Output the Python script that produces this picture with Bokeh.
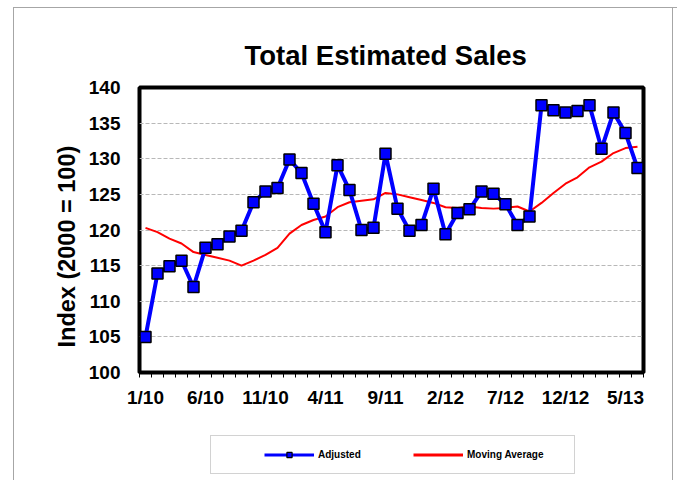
from bokeh.plotting import figure
from bokeh.layouts import column
from bokeh.models import (Range1d, FixedTicker, Legend, LegendItem, Title,
                          ColumnDataSource)
from bokeh.embed import file_html
from bokeh.resources import INLINE

# ---- data -------------------------------------------------------------
months = ["1/10", "2/10", "3/10", "4/10", "5/10", "6/10", "7/10", "8/10", "9/10", "10/10", "11/10", "12/10",
          "1/11", "2/11", "3/11", "4/11", "5/11", "6/11", "7/11", "8/11", "9/11", "10/11", "11/11", "12/11",
          "1/12", "2/12", "3/12", "4/12", "5/12", "6/12", "7/12", "8/12", "9/12", "10/12", "11/12", "12/12",
          "1/13", "2/13", "3/13", "4/13", "5/13", "6/13"]

adjusted = [105.0, 113.9, 114.9, 115.7, 112.0, 117.5, 118.0, 119.1, 119.9, 123.9, 125.4, 125.9,
            129.9, 128.0, 123.7, 119.7, 129.1, 125.6, 120.0, 120.3, 130.7, 123.0, 119.9, 120.7,
            125.8, 119.4, 122.4, 122.9, 125.4, 125.1, 123.6, 120.7, 121.9, 137.5, 136.8, 136.5,
            136.7, 137.5, 131.4, 136.5, 133.6, 128.7]

moving_avg = [120.3, 119.7, 118.8, 118.1, 116.9, 116.5, 116.1, 115.7, 115.0, 115.7, 116.5, 117.5,
              119.5, 120.7, 121.4, 121.9, 123.2, 123.9, 124.1, 124.3, 125.2, 125.0, 124.6, 124.2,
              123.8, 123.2, 123.1, 123.3, 123.1, 123.0, 123.1, 123.3, 122.6, 123.8, 125.2, 126.5,
              127.4, 128.8, 129.6, 130.8, 131.5, 131.7]

tick_labels = ["1/10", "6/10", "11/10", "4/11", "9/11", "2/12", "7/12", "12/12", "5/13"]
y_ticks = [100, 105, 110, 115, 120, 125, 130, 135, 140]

title_text = "Total Estimated Sales"
y_title = "Index (2000 = 100)"
series_names = ["Adjusted", "Moving Average"]

FONT = "Liberation Sans"
GRAY = "#a6a6a6"

idx = list(range(len(months)))
src = ColumnDataSource(dict(x=idx, adj=adjusted, ma=moving_avg, m=months))

# ---- main chart ---------------------------------------------------------
p = figure(frame_width=504, frame_height=285,
           min_border_left=139, min_border_right=34, min_border_top=87, min_border_bottom=48,
           x_range=Range1d(-0.5, len(months) - 0.5), y_range=Range1d(100, 140),
           output_backend="svg", toolbar_location=None)
p.background_fill_color = "white"
p.border_fill_alpha = 0
p.outline_line_color = "black"
p.outline_line_width = 4
p.styles = {"box-shadow": f"inset 13px 7px 0 0 #ffffff, inset 14px 8px 0 0 {GRAY}, "
                          f"inset -4px 0 0 0 #ffffff, inset -5px 0 0 0 {GRAY}",
            "background-color": "#ffffff"}

# title
p.title.text = title_text
p.title.align = "left"
p.title.offset = 105
p.title.text_font = FONT
p.title.text_font_style = "bold"
p.title.text_font_size = "27.5px"
p.title.text_color = "black"
p.title.standoff = 33

# x axis
tick_pos = [months.index(t) for t in tick_labels]
p.xaxis.ticker = FixedTicker(ticks=tick_pos, minor_ticks=[i - 0.5 for i in range(len(months) + 1)])
p.xaxis.major_label_overrides = {pos: lab for pos, lab in zip(tick_pos, tick_labels)}
p.xaxis.axis_line_color = None
p.xaxis.major_tick_line_color = None
p.xaxis.major_tick_out = 0
p.xaxis.major_tick_in = 0
p.xaxis.minor_tick_line_color = "black"
p.xaxis.minor_tick_out = 5
p.xaxis.minor_tick_in = 0
p.xaxis.major_label_standoff = 9
p.xaxis.major_label_text_font = FONT
p.xaxis.major_label_text_font_style = "bold"
p.xaxis.major_label_text_font_size = "19px"
p.xaxis.major_label_text_color = "black"

# y axis
p.yaxis.ticker = FixedTicker(ticks=y_ticks)
p.yaxis.axis_line_color = None
p.yaxis.major_tick_line_color = None
p.yaxis.minor_tick_line_color = None
p.yaxis.major_tick_out = 0
p.yaxis.major_tick_in = 0
p.yaxis.major_label_standoff = 19
p.yaxis.major_label_text_font = FONT
p.yaxis.major_label_text_font_style = "bold"
p.yaxis.major_label_text_font_size = "19px"
p.yaxis.major_label_text_color = "black"

p.add_layout(Title(text=y_title, align="left", offset=25, standoff=12,
                   text_font=FONT, text_font_style="bold", text_font_size="23.5px",
                   text_color="black"), "left")

p.xgrid.grid_line_color = None
p.ygrid.grid_line_color = "#b8b8b8"
p.ygrid.grid_line_dash = "4 2"
p.ygrid.grid_line_width = 1

# series
p.line("x", "ma", source=src, line_color="#FF0000", line_width=2)
p.line("x", "adj", source=src, line_color="#0000FF", line_width=4)
p.scatter("x", "adj", source=src, marker="square", size=11,
          fill_color="#0000FF", line_color="black", line_width=1.5)

# ---- legend strip (second figure; its ranges keep the series out of view) --
q = figure(width=677, height=60, min_border=0,
           x_range=Range1d(1000, 1001), y_range=Range1d(0, 1),
           x_axis_type=None, y_axis_type=None,
           output_backend="svg", toolbar_location=None)
q.grid.visible = False
q.outline_line_color = None
q.background_fill_alpha = 0
q.border_fill_alpha = 0
q.styles = {"box-shadow": f"inset 13px 0 0 0 #ffffff, inset 14px 0 0 0 {GRAY}, "
                          f"inset -4px 0 0 0 #ffffff, inset -5px 0 0 0 {GRAY}",
            "background-color": "#ffffff"}

lg_blue = q.line("x", "adj", source=src, line_color="#0000FF", line_width=3)
lg_sq = q.scatter("x", "adj", source=src, marker="square", size=7, fill_color="#0000FF",
                  line_color="black", line_width=1.2)
lg_red = q.line("x", "ma", source=src, line_color="#FF0000", line_width=3)

legend = Legend(items=[LegendItem(label=series_names[0], renderers=[lg_blue, lg_sq]),
                       LegendItem(label=series_names[1], renderers=[lg_red])],
                location=(71, 6), orientation="horizontal",
                title=" ", title_location="left", title_standoff=30,
                title_text_font_size="10px",
                glyph_width=50, glyph_height=13, label_standoff=4,
                label_width=95, spacing=0,
                padding=12, margin=0, border_line_color=GRAY, border_line_width=1,
                background_fill_color="white", background_fill_alpha=1,
                label_text_font=FONT, label_text_font_style="bold",
                label_text_font_size="10px", label_text_color="black")
q.add_layout(legend, "center")

layout = column(p, q, spacing=0)
open("out.html", "w").write(file_html(layout, INLINE))
